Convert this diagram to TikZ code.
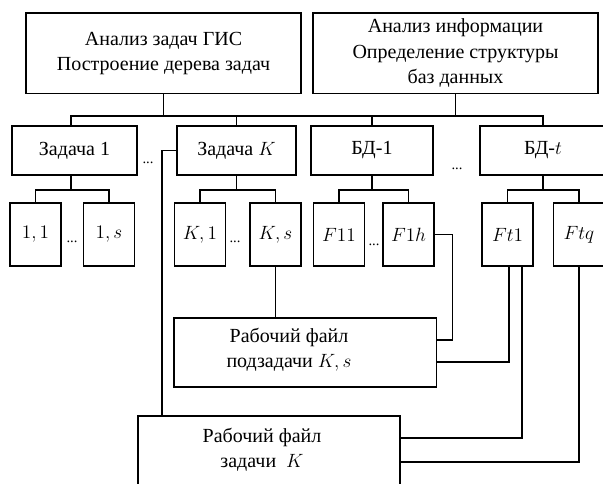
\documentclass[tikz,border=0pt]{standalone}
\usepackage{fontspec}
\setmainfont{Liberation Serif}
\usetikzlibrary{calc}

\tikzset{every picture/.style={line width=1.2pt}}
\tikzset{
  box/.style={draw, inner sep=0pt, align=center, font=\fontsize{15}{19}\selectfont},
  leaf/.style={box, minimum width=38.25pt, minimum height=47.25pt},
  lvl/.style={box, minimum height=36.75pt},
  txt/.style={inner sep=0.75pt, align=center, font=\fontsize{15}{19}\selectfont},
  dts/.style={inner sep=0pt, font=\fontsize{11}{11}\selectfont}
}

\begin{document}
\begin{tikzpicture}[x=0.75pt,y=0.75pt,yscale=-1,xscale=1]
\useasboundingbox (0,0) rectangle (603,483);
\clip (0,0) rectangle (603,483);

%Shape: top boxes
\node[box, minimum width=206.25pt, minimum height=60.4pt] (ana) at (163.5,53.25) {Анализ задач ГИС\\Построение дерева задач};
\node[box, minimum width=213.75pt, minimum height=60.4pt] (inf) at (455.5,53.25) {Анализ информации\\Определение структуры\\баз данных};

%Shape: second level
\node[lvl, minimum width=93.75pt] (z1) at (74.5,150.5) {Задача 1};
\node[lvl, minimum width=89.25pt] (zK) at (236.5,150.5) {Задача $K$};
\node[lvl, minimum width=91.1pt] (bd1) at (372,150.5) {БД-1};
\node[lvl, minimum width=94.5pt] (bdt) at (543,150.5) {БД-$t$};

%Shape: leaves
\node[leaf] (l11) at (35.5,234.5) {$1,1$};
\node[leaf] (l1s) at (109,234.5) {$1,s$};
\node[leaf] (lK1) at (200,234.5) {$K,1$};
\node[leaf] (lKs) at (275.5,234.5) {$K,s$};
\node[leaf] (lF11) at (339,234.5) {$F11$};
\node[leaf] (lF1h) at (408.5,234.5) {$F1h$};
\node[leaf] (lFt1) at (507.5,234.5) {$Ft1$};
\node[leaf] (lFtq) at (579,234.5) {$Ftq$};

%Shape: work files
\node[box, minimum width=196.9pt, minimum height=51.75pt] (sub) at (305.25,352.5) {};
\node[box, minimum width=196.5pt, minimum height=52.5pt] (wk) at (269,451) {};

% Text Node
\node[txt] (subt) at (289,350) {Рабочий файл\\подзадачи $K,s$};
% Text Node
\node[txt] (wkt) at (262,449.5) {Рабочий файл\\задачи\ \ $K$};

% Dots
\node[dts] (d1) at (148,163) {...};
\node[dts] (d2) at (457,169) {...};
\node[dts] (d3) at (72,242) {...};
\node[dts] (d4) at (235,242) {...};
\node[dts] (d5) at (374,245) {...};

%Straight Lines: tree
\coordinate (bus) at (0,116);
\coordinate (sb) at (0,190);
\coordinate (z1x) at (71,0);
\coordinate (kx) at (162,0);
\draw (ana.south) -- (ana.south |- bus);
\draw (inf.south) -- (inf.south |- bus);
\draw (z1x |- z1.north) |- (bdt.north |- bus) -- (bdt.north);
\draw (zK.north) -- (zK.north |- bus);
\draw (bd1.north) -- (bd1.north |- bus);

\draw (z1x |- z1.south) -- (z1x |- sb);
\draw (l11.north) |- (l1s.north |- sb) -- (l1s.north);
\draw (zK.south) -- (zK.south |- sb);
\draw (lK1.north) |- (lKs.north |- sb) -- (lKs.north);
\draw (bd1.south) -- (bd1.south |- sb);
\draw (lF11.north) |- (lF1h.north |- sb) -- (lF1h.north);
\draw (bdt.south) -- (bdt.south |- sb);
\draw (lFt1.north) |- (lFtq.north |- sb) -- (lFtq.north);

%Straight Lines: files
\draw (lKs.south) -- (lKs.south |- sub.north);
\draw (zK.west) -| (kx |- wk.north);
\draw (lF1h.east) -- ++(17.5,0) |- ($(sub.east)+(0,-12.5)$);
\draw ($(lFt1.south)+(1.5,0)$) |- ($(sub.east)+(0,9.5)$);
\draw ($(lFt1.south)+(14.5,0)$) |- ($(wk.east)+(0,-13)$);
\draw (lFtq.south) |- ($(wk.east)+(0,11)$);

\end{tikzpicture}
\end{document}
